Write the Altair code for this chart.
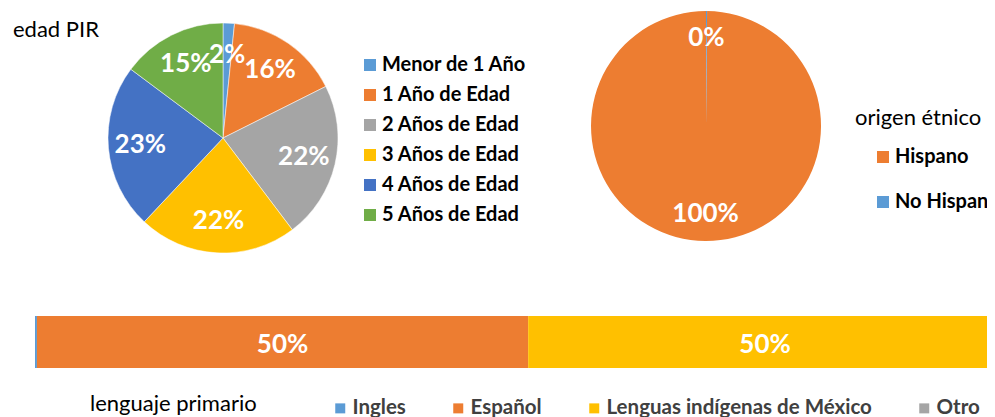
import altair as alt
import pandas as pd

# ---- data ----
edad_cats = ["Menor de 1 Año", "1 Año de Edad", "2 Años de Edad",
             "3 Años de Edad", "4 Años de Edad", "5 Años de Edad"]
edad_vals = [1.6, 16.0, 22.1, 22.3, 23.2, 14.8]
edad_labels = ["2%", "16%", "22%", "22%", "23%", "15%"]
edad_colors = ["#5B9BD5", "#ED7D31", "#A5A5A5", "#FFC000", "#4472C4", "#70AD47"]

origen_cats = ["Hispano", "No Hispano"]
origen_vals = [99.85, 0.15]
origen_labels = ["100%", "0%"]
origen_stack_order = [1, 0]
origen_colors = ["#ED7D31", "#5B9BD5"]

lengua_cats = ["Ingles", "Español", "Lenguas indígenas de México", "Otro"]
lengua_vals = [0.2, 50.8, 49.0, 0.0]
lengua_labels = ["", "50%", "50%", ""]
lengua_colors = ["#5B9BD5", "#ED7D31", "#FFC000", "#A5A5A5"]

titles = ["edad PIR", "origen étnico", "lenguaje primario"]

FONT = "Lato"

df_e = pd.DataFrame({"cat": edad_cats, "value": edad_vals,
                     "label": edad_labels, "idx": list(range(len(edad_cats)))})
df_o = pd.DataFrame({"cat": origen_cats, "value": origen_vals,
                     "label": origen_labels, "idx": origen_stack_order})
df_l = pd.DataFrame({"cat": lengua_cats, "value": lengua_vals,
                     "label": lengua_labels, "idx": list(range(len(lengua_cats)))})


def legend(x, y, direction="vertical", row_pad=10, color="#000000", size=20,
           sym=144, cols=None, col_pad=10):
    kw = dict(orient="none", legendX=x, legendY=y, direction=direction,
              symbolType="square", symbolSize=sym, symbolStrokeWidth=0,
              labelFont=FONT, labelFontWeight="bold", labelFontSize=size,
              labelColor=color, rowPadding=row_pad, labelOffset=2,
              padding=0, title=None, labelLimit=400)
    if cols is not None:
        kw["columns"] = cols
        kw["columnPadding"] = col_pad
    return alt.Legend(**kw)


# ---- pie 1 ----
cx1, cy1 = 215, 130
pie1 = alt.Chart(df_e).mark_arc(outerRadius=115, stroke="white", strokeWidth=0.5).encode(
    theta=alt.Theta("value:Q", stack=True),
    color=alt.Color("cat:N", scale=alt.Scale(domain=edad_cats, range=edad_colors),
                    legend=legend(352, 47)),
    order=alt.Order("idx:Q"),
    x=alt.value(cx1), y=alt.value(cy1),
)
pie1_txt = alt.Chart(df_e).mark_text(radius=83, font=FONT, fontWeight="bold",
                                     fontSize=26, color="white").encode(
    theta=alt.Theta("value:Q", stack=True),
    order=alt.Order("idx:Q"),
    text="label:N",
    x=alt.value(cx1), y=alt.value(cy1),
)

# ---- pie 2 ----
cx2, cy2 = 698, 118
pie2 = alt.Chart(df_o).mark_arc(outerRadius=115).encode(
    theta=alt.Theta("value:Q", stack=True),
    color=alt.Color("cat:N", scale=alt.Scale(domain=origen_cats, range=origen_colors),
                    legend=legend(865, 139, row_pad=25)),
    order=alt.Order("idx:Q"),
    x=alt.value(cx2), y=alt.value(cy2),
)
pie2_txt = alt.Chart(df_o).mark_text(radius=88, font=FONT, fontWeight="bold",
                                     fontSize=26, color="white").encode(
    theta=alt.Theta("value:Q", stack=True),
    order=alt.Order("idx:Q"),
    text="label:N",
    x=alt.value(cx2), y=alt.value(cy2),
)

# ---- bar ----
xscale = alt.Scale(domain=[0, 100], range=[27, 994])
stacked = alt.Chart(df_l).transform_stack(
    stack="value", as_=["x0", "x1"], groupby=[], sort=[alt.SortField("idx")]
)
bar = stacked.mark_rect().encode(
    x=alt.X("x0:Q", scale=xscale, axis=None),
    x2="x1:Q",
    y=alt.value(308), y2=alt.value(360),
    color=alt.Color("cat:N", scale=alt.Scale(domain=lengua_cats, range=lengua_colors),
                    legend=legend(322, 390, direction="horizontal", color="#404040",
                                  size=20.5, sym=100, cols=4, col_pad=42)),
)
bar_txt = stacked.transform_calculate(
    mid="(datum.x0 + datum.x1) / 2"
).transform_filter(
    "datum.label != ''"
).mark_text(font=FONT, fontWeight="bold", fontSize=26, color="white").encode(
    x=alt.X("mid:Q", scale=xscale, axis=None),
    y=alt.value(337),
    text="label:N",
)

# ---- titles ----
def title_mark(i, x, y):
    return alt.Chart(pd.DataFrame({"t": [titles[i]]})).mark_text(
        font=FONT, fontSize=22, color="#000000", align="left", baseline="alphabetic"
    ).encode(text="t:N", x=alt.value(x), y=alt.value(y))

t1 = title_mark(0, 5, 29)
t2 = title_mark(1, 847, 117)
t3 = title_mark(2, 82, 403)

chart = alt.layer(
    pie1, pie1_txt, pie2, pie2_txt, bar, bar_txt, t1, t2, t3
).resolve_scale(
    color="independent", theta="independent"
).properties(
    width=979, height=409, padding=0, autosize=alt.AutoSizeParams(type="none")
).configure_view(stroke=None)

chart.save("out.html", embed_options={"renderer": "svg", "actions": False})
